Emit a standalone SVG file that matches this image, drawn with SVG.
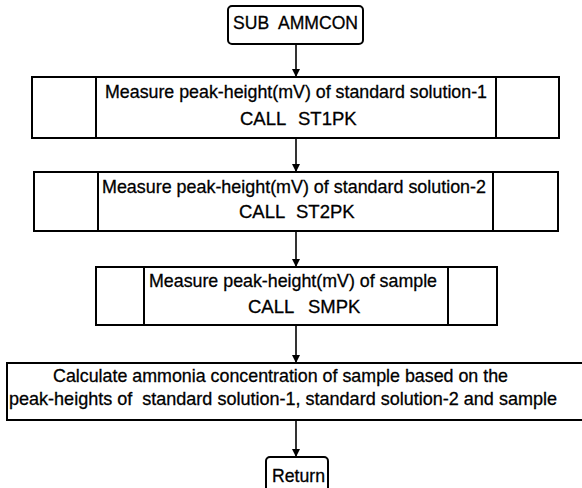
<svg xmlns="http://www.w3.org/2000/svg" width="582" height="488" viewBox="0 0 582 488">
  <style>
    .box { fill: #fff; stroke: #000; stroke-width: 2; }
    .div { stroke: #000; stroke-width: 2; }
    .lbl { font-family: "Liberation Sans", Arial, sans-serif; font-size: 18.5px; fill: #000; stroke: #000; stroke-width: 0.3; }
    .conn { stroke: #000; stroke-width: 1.6; fill: none; marker-end: url(#arrow); }
  </style>
  <defs>
    <marker id="arrow" markerUnits="userSpaceOnUse" markerWidth="8" markerHeight="10" refX="8" refY="4" orient="auto">
      <path d="M0,0 L8,4 L0,8 z" fill="#000"/>
    </marker>
  </defs>
  <rect width="582" height="488" fill="#fff"/>

  <!-- flow connectors -->
  <g id="connectors">
    <line class="conn" x1="296" y1="44" x2="296" y2="77"/>
    <line class="conn" x1="296" y1="138" x2="296" y2="172"/>
    <line class="conn" x1="296" y1="231" x2="296" y2="267"/>
    <line class="conn" x1="296" y1="325" x2="296" y2="363"/>
    <line class="conn" x1="296" y1="420" x2="296" y2="457"/>
  </g>

  <!-- entry terminal -->
  <g id="start">
    <rect class="box" x="228" y="6" width="135" height="38" rx="4"/>
    <text class="lbl" x="233" y="29" xml:space="preserve" textLength="125" lengthAdjust="spacingAndGlyphs">SUB  AMMCON</text>
  </g>

  <!-- subroutine call: standard solution 1 -->
  <g id="st1pk">
    <rect class="box" x="32" y="77" width="527" height="61"/>
    <line class="div" x1="96" y1="77" x2="96" y2="138"/>
    <line class="div" x1="496" y1="77" x2="496" y2="138"/>
    <text class="lbl" x="105" y="98" textLength="382" lengthAdjust="spacingAndGlyphs">Measure peak-height(mV) of standard solution-1</text>
    <text class="lbl" y="125"><tspan x="240">CALL</tspan><tspan x="298">ST1PK</tspan></text>
  </g>

  <!-- subroutine call: standard solution 2 -->
  <g id="st2pk">
    <rect class="box" x="34" y="172" width="524" height="59"/>
    <line class="div" x1="98" y1="172" x2="98" y2="231"/>
    <line class="div" x1="493" y1="172" x2="493" y2="231"/>
    <text class="lbl" x="102" y="193" textLength="384" lengthAdjust="spacingAndGlyphs">Measure peak-height(mV) of standard solution-2</text>
    <text class="lbl" y="218"><tspan x="239">CALL</tspan><tspan x="296">ST2PK</tspan></text>
  </g>

  <!-- subroutine call: sample -->
  <g id="smpk">
    <rect class="box" x="96" y="267" width="401" height="58"/>
    <line class="div" x1="144" y1="267" x2="144" y2="325"/>
    <line class="div" x1="448" y1="267" x2="448" y2="325"/>
    <text class="lbl" x="149" y="287" textLength="288" lengthAdjust="spacingAndGlyphs">Measure peak-height(mV) of sample</text>
    <text class="lbl" y="313"><tspan x="248">CALL</tspan><tspan x="308">SMPK</tspan></text>
  </g>

  <!-- concentration calculation -->
  <g id="calc">
    <rect class="box" x="7" y="363" width="577" height="57"/>
    <text class="lbl" x="53" y="382" textLength="455" lengthAdjust="spacingAndGlyphs">Calculate ammonia concentration of sample based on the</text>
    <text class="lbl" x="9" y="405" xml:space="preserve" textLength="548" lengthAdjust="spacingAndGlyphs">peak-heights of  standard solution-1, standard solution-2 and sample</text>
  </g>

  <!-- exit terminal -->
  <g id="return">
    <rect class="box" x="266" y="457" width="62" height="40" rx="4"/>
    <text class="lbl" x="272" y="482" textLength="53" lengthAdjust="spacingAndGlyphs">Return</text>
  </g>
</svg>
